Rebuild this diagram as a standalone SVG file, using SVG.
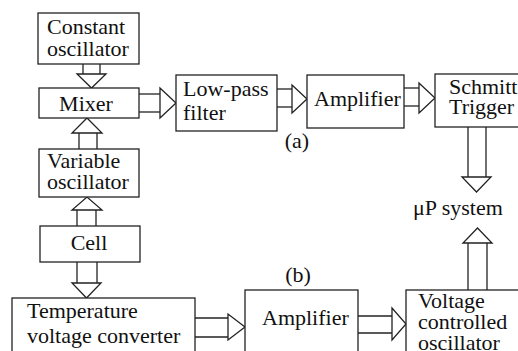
<svg xmlns="http://www.w3.org/2000/svg" width="518" height="351" viewBox="0 0 518 351" font-family="'Liberation Serif', 'Times New Roman', Tinos, serif">
<style>
.box{fill:#fff;stroke:#222;stroke-width:1.3}
.ar{fill:#fff;stroke:#222;stroke-width:1.3;stroke-linejoin:miter}
.sh{stroke:#222;stroke-width:1.3;fill:none}
.t{font-family:'Liberation Serif','Times New Roman',Tinos,serif;font-size:22px;fill:#111}
.m{text-anchor:middle}
</style>
<rect width="518" height="351" fill="#fff"/>
<g id="connectors">
<line class="sh" x1="83" y1="64" x2="83" y2="74"/><line class="sh" x1="100" y1="64" x2="100" y2="74"/>
<polygon class="ar" points="77,74 106,74 91.5,88"/>
<line class="sh" x1="79" y1="133" x2="79" y2="149"/><line class="sh" x1="97" y1="133" x2="97" y2="149"/>
<polygon class="ar" points="72,133 102,133 87,118"/>
<line class="sh" x1="77" y1="210" x2="77" y2="226"/><line class="sh" x1="96" y1="210" x2="96" y2="226"/>
<polygon class="ar" points="72,210 102,210 87,197"/>
<line class="sh" x1="77" y1="262" x2="77" y2="283"/><line class="sh" x1="97" y1="262" x2="97" y2="283"/>
<polygon class="ar" points="72,283 101,283 86.5,298"/>
<line class="sh" x1="139" y1="94" x2="160" y2="94"/><line class="sh" x1="139" y1="112" x2="160" y2="112"/>
<polygon class="ar" points="160,88 160,118 176,103"/>
<line class="sh" x1="277" y1="89" x2="292" y2="89"/><line class="sh" x1="277" y1="107" x2="292" y2="107"/>
<polygon class="ar" points="292,85 292,113 307,99"/>
<line class="sh" x1="404" y1="88" x2="419" y2="88"/><line class="sh" x1="404" y1="106" x2="419" y2="106"/>
<polygon class="ar" points="419,83 419,113 435,98"/>
<line class="sh" x1="468" y1="127" x2="468" y2="177"/><line class="sh" x1="486" y1="127" x2="486" y2="177"/>
<polygon class="ar" points="462,177 491,177 476.5,192"/>
<line class="sh" x1="468" y1="243" x2="468" y2="290"/><line class="sh" x1="487" y1="243" x2="487" y2="290"/>
<polygon class="ar" points="463,243 492,243 477.5,228"/>
<line class="sh" x1="195" y1="318" x2="228" y2="318"/><line class="sh" x1="195" y1="337" x2="228" y2="337"/>
<polygon class="ar" points="228,314 228,340 245,327"/>
<line class="sh" x1="358" y1="316" x2="392" y2="316"/><line class="sh" x1="358" y1="333" x2="392" y2="333"/>
<polygon class="ar" points="392,308 392,340 406,324"/>
</g>
<g id="constant-oscillator"><rect class="box" x="38" y="13" width="101" height="51"/><text class="t" x="47" y="34">Constant</text><text class="t" x="47" y="56">oscillator</text></g>
<g id="mixer"><rect class="box" x="39" y="88" width="100" height="30"/><text class="t m" x="86" y="111">Mixer</text></g>
<g id="variable-oscillator"><rect class="box" x="39" y="149" width="100" height="48"/><text class="t" x="47" y="168">Variable</text><text class="t" x="47" y="189">oscillator</text></g>
<g id="cell"><rect class="box" x="40" y="226" width="100" height="36"/><text class="t m" x="89" y="250">Cell</text></g>
<g id="low-pass-filter"><rect class="box" x="176" y="75" width="101" height="56"/><text class="t" x="183" y="96">Low-pass</text><text class="t" x="183" y="120">filter</text></g>
<g id="amplifier-a"><rect class="box" x="307" y="75" width="97" height="53"/><text class="t" x="314" y="106">Amplifier</text></g>
<g id="schmitt-trigger"><rect class="box" x="435" y="74" width="95" height="53"/><text class="t" x="449" y="94">Schmitt</text><text class="t" x="449" y="114">Trigger</text></g>
<g id="label-a"><text class="t m" x="297" y="148">(a)</text></g>
<g id="up-system"><text class="t" x="413" y="215">μP system</text></g>
<g id="label-b"><text class="t m" x="298" y="282">(b)</text></g>
<g id="temperature-voltage-converter"><rect class="box" x="12" y="298" width="183" height="62"/><text class="t" x="27" y="318">Temperature</text><text class="t" x="27" y="343">voltage converter</text></g>
<g id="amplifier-b"><rect class="box" x="245" y="290" width="113" height="70"/><text class="t" x="262" y="325">Amplifier</text></g>
<g id="voltage-controlled-oscillator"><rect class="box" x="406" y="290" width="120" height="70"/><text class="t" x="418" y="308">Voltage</text><text class="t" x="418" y="329">controlled</text><text class="t" x="418" y="350">oscillator</text></g>
</svg>
